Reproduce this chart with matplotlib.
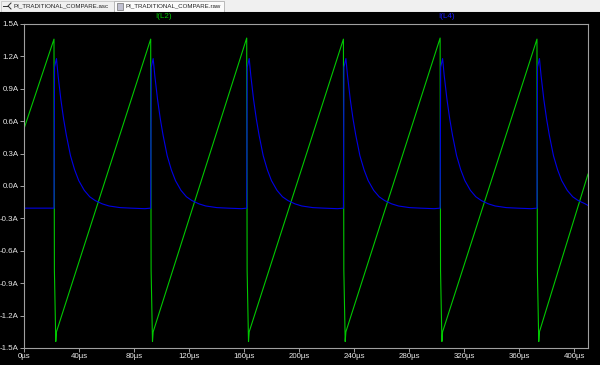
import matplotlib
matplotlib.use('Agg')
import matplotlib.pyplot as plt
from matplotlib.patches import Rectangle

plt.rcParams['font.family'] = ['Liberation Sans', 'DejaVu Sans']

# switching instants (us), read from the green peaks
switch_times = [21.8, 92.1, 161.9, 232.2, 302.5, 372.9]
t_end = 410

# I(L2): sawtooth, values in A
l2_start = 0.53
l2_peak = [1.36, 1.36, 1.37, 1.36, 1.37, 1.36]
l2_drop = -0.78
l2_min = -1.44
l2_ramp_start = -1.35
l2_end = 0.11

# I(L4): flat base, jump at each switch then decay (offsets in us after switch)
l4_base = -0.205
l4_dt = [0.4, 1.8, 3, 5, 7, 9, 12, 15, 18, 22, 26, 30, 35, 40, 48, 56, 66]
l4_val = [1.10, 1.18, 1.02, 0.80, 0.62, 0.47, 0.28, 0.15, 0.05, -0.04,
          -0.10, -0.135, -0.165, -0.185, -0.20, -0.205, -0.21]
l4_end = -0.18

x_ticks = [0, 40, 80, 120, 160, 200, 240, 280, 320, 360, 400]
y_ticks = [1.5, 1.2, 0.9, 0.6, 0.3, 0.0, -0.3, -0.6, -0.9, -1.2, -1.5]
y_labels = ['1.5A', '1.2A', '0.9A', '0.6A', '0.3A', '0.0A',
            '-0.3A', '-0.6A', '-0.9A', '-1.2A', '-1.5A']

# build I(L2) vertices
g_t, g_i = [0], [l2_start]
for ts, pk in zip(switch_times, l2_peak):
    g_t += [ts, ts + 0.3, ts + 1.3, ts + 1.8]
    g_i += [pk, l2_drop, l2_min, l2_ramp_start]
g_t.append(t_end)
g_i.append(l2_end)

# build I(L4) vertices
b_t, b_i = [0], [l4_base]
for ts in switch_times:
    b_t.append(ts)
    b_i.append(l4_base)
    for d, v in zip(l4_dt, l4_val):
        if ts + d < t_end:
            b_t.append(ts + d)
            b_i.append(v)
b_t.append(t_end)
b_i.append(l4_end)

W, H = 600, 365
fig = plt.figure(figsize=(6, 3.65), dpi=100, facecolor='black')

# tab bar on top
bar = fig.add_axes([0, 1 - 12 / H, 1, 12 / H])
bar.set_xlim(0, W)
bar.set_ylim(12, 0)
bar.axis('off')
bar.add_patch(Rectangle((0, 0), W, 12, facecolor='#f0f0f0', edgecolor='none'))
bar.add_patch(Rectangle((0.5, 0.5), 113, 11, facecolor='#f0f0f0', edgecolor='#c8c8c8', lw=0.6))
bar.add_patch(Rectangle((114, 0.5), 110, 11, facecolor='#fbfbfb', edgecolor='#b0b0b0', lw=0.6))
bar.plot([3, 8], [6, 6], color='#303030', lw=0.7)
bar.plot([11, 8, 11], [3, 6, 9], color='#303030', lw=0.7)
bar.add_patch(Rectangle((116.5, 2.5), 6, 7, facecolor='#c0c0d0', edgecolor='#707070', lw=0.5))
bar.text(14, 6.3, 'PI_TRADITIONAL_COMPARE.asc', fontsize=4.4, color='#202020', va='center', ha='left')
bar.text(126, 6.3, 'PI_TRADITIONAL_COMPARE.raw', fontsize=4.4, color='#202020', va='center', ha='left')
bar.plot([0, W], [11.6, 11.6], color='#707070', lw=0.8)

# plot area
ax = fig.add_axes([24 / W, 17 / H, 564 / W, 324 / H])
ax.set_facecolor('black')
ax.plot(g_t, g_i, color='#00c800', lw=0.8)
ax.plot(b_t, b_i, color='#0000e6', lw=0.8)
ax.set_xlim(0, t_end)
ax.set_ylim(-1.5, 1.5)
ax.set_xticks(x_ticks)
ax.set_xticklabels([f'{v}µs' for v in x_ticks])
ax.set_yticks(y_ticks)
ax.set_yticklabels(y_labels)
for s in ax.spines.values():
    s.set_color('#a0a0a0')
    s.set_linewidth(0.8)
ax.tick_params(direction='out', length=3, width=0.7, color='#a0a0a0',
               labelcolor='#e8e8e8', labelsize=5.7, pad=0.8)

fig.text(164 / W, 1 - 16.5 / H, 'I(L2)', color='#00c800', fontsize=5.8, ha='center', va='center')
fig.text(447 / W, 1 - 17 / H, 'I(L4)', color='#1a1aff', fontsize=5.8, ha='center', va='center')

fig.savefig('out.png', dpi=100, facecolor='black')
